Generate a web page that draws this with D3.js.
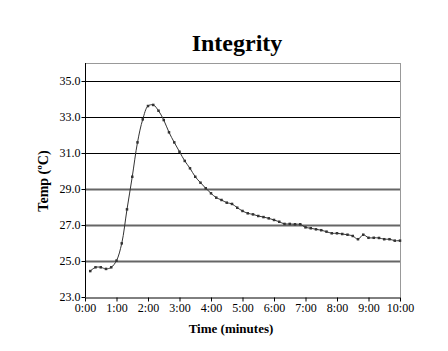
<!DOCTYPE html>
<html><head><meta charset="utf-8">
<script src="https://cdn.jsdelivr.net/npm/d3@7"></script>
<style>body{margin:0;background:#fff;}svg{display:block;}text{font-family:"Liberation Serif","Times New Roman",serif;}</style>
</head><body>
<svg id="c" width="448" height="351"></svg>
<script>
const title = "Integrity";
const xTitle = "Time (minutes)";
const yTitle = "Temp (ºC)";
const times = d3.range(1, 61).map(i => i * 10); // seconds
const temps = [24.44,24.65,24.65,24.56,24.65,25.02,25.98,27.87,29.68,31.59,
  32.87,33.61,33.67,33.35,32.83,32.15,31.59,31.07,30.56,30.15,
  29.68,29.35,29.04,28.76,28.52,28.39,28.24,28.17,27.96,27.78,
  27.65,27.59,27.50,27.44,27.37,27.28,27.18,27.06,27.06,27.04,
  27.04,26.87,26.82,26.76,26.71,26.63,26.54,26.54,26.50,26.46,
  26.39,26.21,26.46,26.29,26.29,26.28,26.21,26.21,26.13,26.13];
const xTicks = d3.range(0, 11).map(m => m * 60);
const xTickLabels = d3.range(0, 11).map(m => m + ":00");
const yTicks = [23, 25, 27, 29, 31, 33, 35];

const svg = d3.select("#c");
const L = 85, R = 400, T = 63, B = 297;
const x = d3.scaleLinear().domain([0, 600]).range([L, R]);
const y = d3.scaleLinear().domain([23, 36]).range([B, T]);

// frame
svg.append("line").attr("x1", L).attr("x2", R).attr("y1", T + 0.5).attr("y2", T + 0.5).attr("stroke", "#999");
svg.append("line").attr("x1", R + 0.5).attr("x2", R + 0.5).attr("y1", T).attr("y2", B).attr("stroke", "#999");

// gridlines
yTicks.filter(v => v > 23).forEach(v => {
  const dark = v >= 31;
  svg.append("line").attr("x1", L).attr("x2", R)
    .attr("y1", Math.round(y(v)) + 0.5).attr("y2", Math.round(y(v)) + 0.5)
    .attr("stroke", dark ? "#000" : "#666").attr("stroke-width", dark ? 1 : 2);
});

// axes
const xa = svg.append("g").attr("transform", `translate(0,${B + 0.5})`)
  .call(d3.axisBottom(x).tickValues(xTicks).tickFormat((d, i) => xTickLabels[i]).tickSize(4).tickSizeOuter(0));
const ya = svg.append("g").attr("transform", `translate(${L + 0.5},0)`)
  .call(d3.axisLeft(y).tickValues(yTicks).tickFormat(d3.format(".1f")).tickSize(4).tickSizeOuter(0));
[xa, ya].forEach(g => {
  g.select(".domain").attr("stroke", "#000");
  g.selectAll(".tick line").attr("stroke", "#000");
  g.selectAll("text").attr("font-family", '"Liberation Serif",serif').attr("font-size", 12).attr("fill", "#000");
});
xa.selectAll("text").attr("dy", "0.71em").attr("y", 6);
ya.selectAll("text").attr("x", -5);
ya.select(".domain").attr("d", `M0,${T}V${B}`);

// line
const line = d3.line().x((d, i) => x(times[i])).y(d => y(d)).curve(d3.curveCatmullRom.alpha(0.5));
svg.append("path").datum(temps).attr("d", line).attr("fill", "none").attr("stroke", "#333").attr("stroke-width", 1);
svg.selectAll("rect.pt").data(temps).enter().append("rect").attr("class", "pt")
  .attr("x", (d, i) => x(times[i]) - 1.25).attr("y", d => y(d) - 1.25)
  .attr("width", 2.5).attr("height", 2.5).attr("fill", "#333");

// titles
svg.append("text").attr("x", 237).attr("y", 51).attr("text-anchor", "middle")
  .attr("font-size", 24).attr("font-weight", "bold").text(title);
svg.append("text").attr("x", 231).attr("y", 333).attr("text-anchor", "middle")
  .attr("font-size", 13).attr("font-weight", "bold").text(xTitle);
svg.append("text").attr("transform", "translate(48,181) rotate(-90)").attr("text-anchor", "middle")
  .attr("font-size", 14).attr("font-weight", "bold").text(yTitle);
</script>
</body></html>
